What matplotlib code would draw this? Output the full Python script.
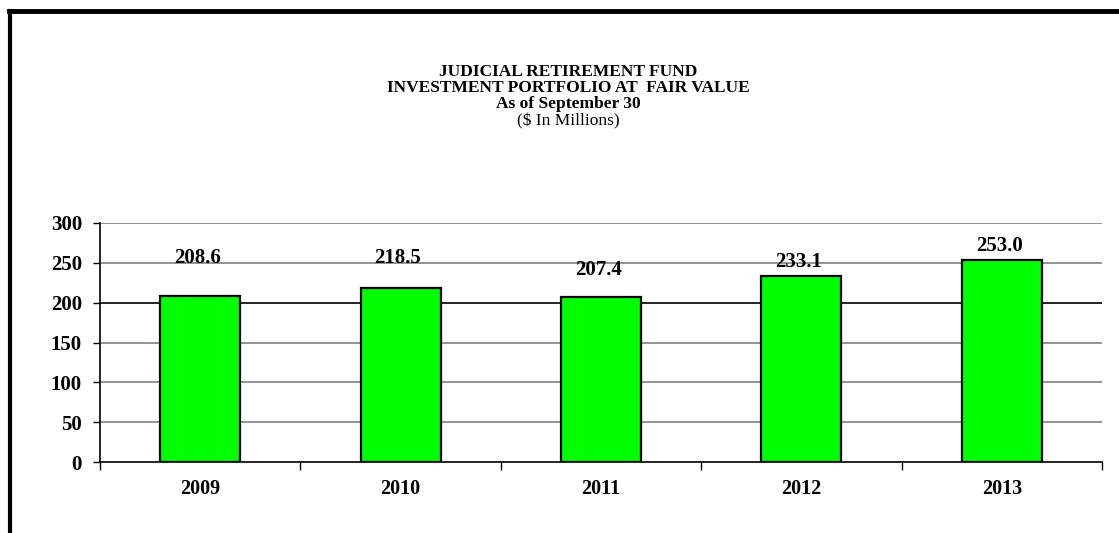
import numpy as np
import matplotlib
matplotlib.use("Agg")
import matplotlib.pyplot as plt
from matplotlib.lines import Line2D

years = ["2009", "2010", "2011", "2012", "2013"]
values = [208.6, 218.5, 207.4, 233.1, 253.0]
# label centre offsets above the bar tops (points), as placed in the original
label_offsets = [27, 21.5, 19, 10, 10.5]

plt.rcParams['font.family'] = ['Liberation Serif', 'DejaVu Serif']

fig = plt.figure(figsize=(11.19, 5.33), dpi=100)
W, H = 1119, 533
ax = fig.add_axes([100 / W, 1 - 462 / H, 1002 / W, (462 - 223) / H])

x = np.arange(len(years))
ax.bar(x, values, width=0.4, color="#00ff00", edgecolor="black", linewidth=1.6, zorder=3)

for xi, v, off in zip(x, values, label_offsets):
    ax.annotate(f"{v:.1f}", (xi, v), xytext=(-2, off), textcoords="offset points",
                ha="center", va="center", fontsize=15, fontweight="bold")

ax.set_xlim(-0.5, len(years) - 0.5)
ax.set_ylim(0, 300)
ax.set_yticks(np.arange(0, 301, 50))
ax.set_yticklabels([str(t) for t in range(0, 301, 50)], fontsize=15, fontweight="bold")
ax.set_xticks(x)
ax.set_xticklabels(years, fontsize=14.5, fontweight="bold")
ax.tick_params(axis="x", length=0, pad=12)
ax.set_xticks(np.arange(-0.5, len(years)), minor=True)
ax.tick_params(axis="x", which="minor", length=6, width=1, direction="out")
ax.tick_params(axis="y", length=5, width=1, direction="out", pad=8)

for t in range(50, 301, 50):
    ax.axhline(t, color="black" if t == 200 else "#808080", linewidth=1.2, zorder=1)

for s in ["top", "right"]:
    ax.spines[s].set_visible(False)
ax.spines["left"].set_linewidth(1.2)
ax.spines["bottom"].set_linewidth(1.2)

title_lines = [
    ("JUDICIAL RETIREMENT FUND", "bold", 72),
    ("INVESTMENT PORTFOLIO AT  FAIR VALUE", "bold", 88),
    ("As of September 30", "bold", 104),
    ("($ In Millions)", "normal", 121),
]
for txt, wt, yp in title_lines:
    fig.text(568 / W, 1 - yp / H, txt, ha="center", va="center", fontsize=12.5, fontweight=wt)

# outer frame (left and top only)
fig.add_artist(Line2D([10 / W, 10 / W], [0, 1 - 10.5 / H], color="black", linewidth=3, transform=fig.transFigure))
fig.add_artist(Line2D([8.5 / W, 1], [1 - 10.5 / H, 1 - 10.5 / H], color="black", linewidth=3.5, transform=fig.transFigure))

fig.savefig("out.png", dpi=100)
